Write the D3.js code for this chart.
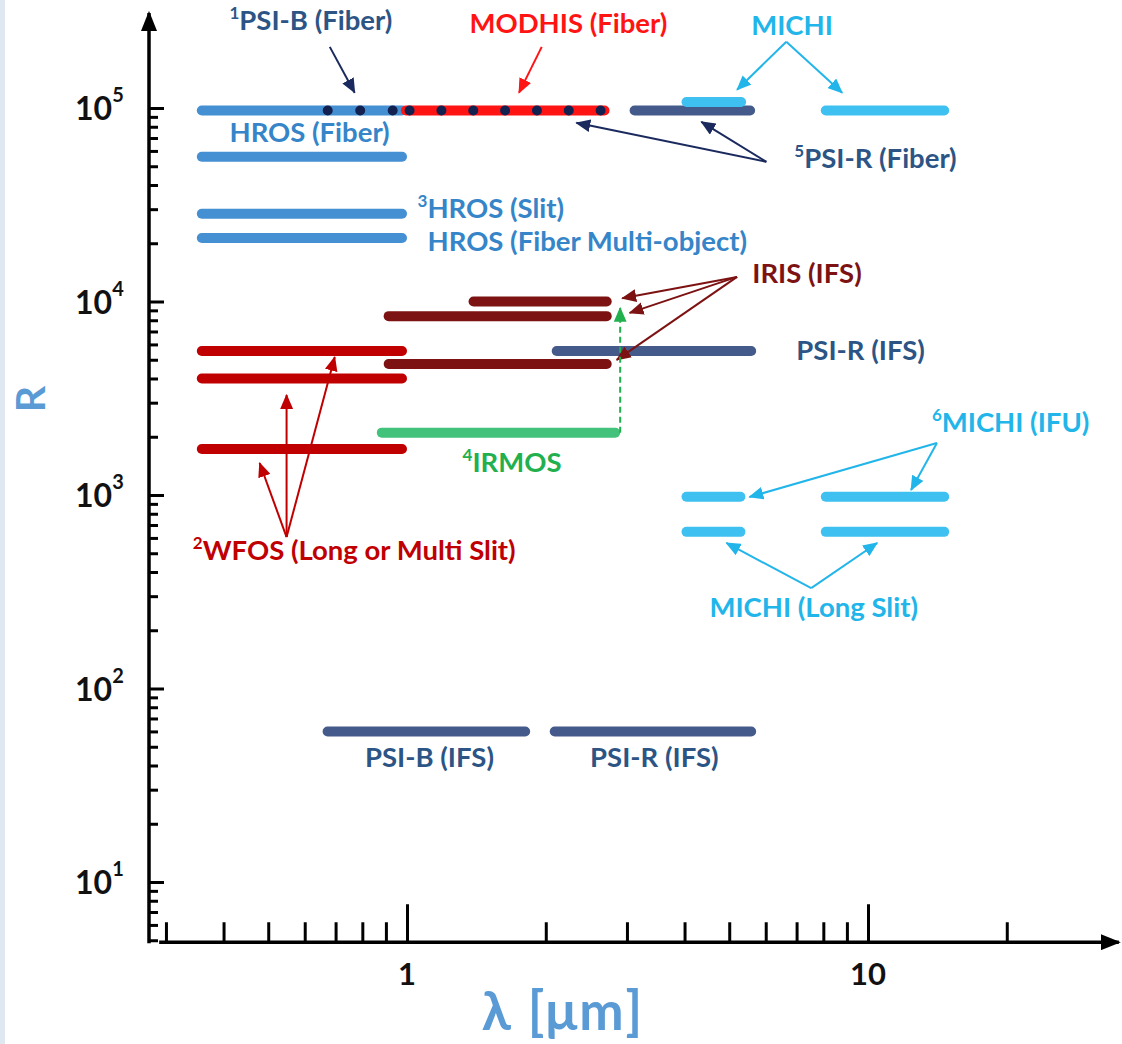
<!DOCTYPE html>
<html>
<head>
<meta charset="utf-8">
<script src="https://cdn.jsdelivr.net/npm/d3@7"></script>
<style>
  body { margin: 0; background: #fff; }
  svg { display: block; font-family: Lato, "Open Sans", sans-serif; font-weight: 700; }
</style>
</head>
<body>
<svg id="chart"></svg>
<script>
let width = 1122;
let height = 1044;

// wavelength range (µm) and resolving power R for each instrument mode
let hrosBars = [
  {from: 0.35, to: 1.0, r: 97000},
  {from: 0.35, to: 1.0, r: 56000},
  {from: 0.35, to: 1.0, r: 28400},
  {from: 0.35, to: 1.0, r: 21300}
];
let modhisBars = [{from: 0.97, to: 2.75, r: 97000}];
let psiBars = [
  {from: 3.04, to: 5.69, r: 97000},
  {from: 2.06, to: 5.72, r: 5550},
  {from: 0.656, to: 1.85, r: 60},
  {from: 2.04, to: 5.72, r: 60}
];
let michiBars = [
  {from: 3.94, to: 5.44, r: 107500},
  {from: 7.9, to: 15, r: 97000},
  {from: 3.94, to: 5.42, r: 980},
  {from: 7.9, to: 15, r: 980},
  {from: 3.94, to: 5.42, r: 645},
  {from: 7.9, to: 15, r: 645}
];
let irisBars = [
  {from: 1.36, to: 2.78, r: 10000},
  {from: 0.89, to: 2.78, r: 8400},
  {from: 0.89, to: 2.78, r: 4750}
];
let wfosBars = [
  {from: 0.35, to: 1.0, r: 5550},
  {from: 0.35, to: 1.0, r: 4000},
  {from: 0.35, to: 1.0, r: 1730}
];
let irmosBars = [{from: 0.86, to: 2.9, r: 2100}];
// fiber modes shown as dots on the R~1e5 row
let fiberDots = [
  {from: 0.673, to: 0.931, r: 97000, count: 3},
  {from: 1.013, to: 2.63, r: 97000, count: 7}
];

let xTickMajor = [1, 10];
let xTickMinor = [0.3, 0.4, 0.5, 0.6, 0.7, 0.8, 0.9, 2, 3, 4, 5, 6, 7, 8, 9, 20];
let yTickMajor = [10, 100, 1000, 10000, 100000];

let colors = {
  hros: '#4590d2', modhis: '#ff1414', psi: '#445a8a', michi: '#3ec1f0',
  iris: '#7d1212', wfos: '#c00000', irmos: '#42c27a', dots: '#12214f',
  psiText: '#2c5585', hrosText: '#3585c8', michiText: '#22b5ea',
  irmosText: '#22b04f', axisTitle: '#5b9bd5'
};

let labels = [
  {sup: '1', text: 'PSI-B (Fiber)', lam: 0.412, r: 2.54e5, color: colors.psiText},
  {text: 'MODHIS (Fiber)', lam: 1.366, r: 2.45e5, color: colors.modhis},
  {text: 'MICHI', lam: 5.58, r: 2.39e5, color: colors.michiText},
  {text: 'HROS (Fiber)', lam: 0.412, r: 6.69e4, color: colors.hrosText},
  {sup: '5', text: 'PSI-R (Fiber)', lam: 6.92, r: 4.91e4, color: colors.psiText},
  {sup: '3', text: 'HROS (Slit)', lam: 1.054, r: 2.71e4, color: colors.hrosText},
  {text: 'HROS (Fiber Multi-object)', lam: 1.108, r: 1.83e4, color: colors.hrosText},
  {text: 'IRIS (IFS)', lam: 5.61, r: 1.25e4, color: colors.iris},
  {text: 'PSI-R (IFS)', lam: 6.99, r: 4990, color: colors.psiText},
  {sup: '4', text: 'IRMOS', lam: 1.32, r: 1315, color: colors.irmosText},
  {sup: '6', text: 'MICHI (IFU)', lam: 13.76, r: 2117, color: colors.michiText},
  {sup: '2', text: 'WFOS (Long or Multi Slit)', lam: 0.343, r: 461, color: colors.wfos},
  {text: 'MICHI (Long Slit)', lam: 4.53, r: 234, color: colors.michiText},
  {text: 'PSI-B (IFS)', lam: 1.119, r: 39.2, color: colors.psiText, anchor: 'middle'},
  {text: 'PSI-R (IFS)', lam: 3.44, r: 39.2, color: colors.psiText, anchor: 'middle'}
];

// arrows: [lambda, R] start -> end
let arrows = [
  {from: [0.68, 2.07e5], to: [0.77, 1.2e5], color: '#1a2a5e'},
  {from: [1.96, 2.07e5], to: [1.75, 1.2e5], color: colors.modhis},
  {from: [6.65, 2.2e5], to: [5.2, 1.242e5], color: colors.michiText},
  {from: [6.65, 2.2e5], to: [8.79, 1.2e5], color: colors.michiText},
  {from: [6.02, 5.27e4], to: [2.33, 8.38e4], color: '#1a2a5e'},
  {from: [6.02, 5.27e4], to: [4.35, 8.48e4], color: '#1a2a5e'},
  {from: [5.2, 1.34e4], to: [2.93, 1.04e4], color: colors.iris},
  {from: [5.2, 1.34e4], to: [3.04, 8730], color: colors.iris},
  {from: [5.2, 1.34e4], to: [2.85, 4990], color: colors.iris},
  {from: [0.548, 606], to: [0.479, 1464], color: colors.wfos},
  {from: [0.548, 606], to: [0.548, 3289], color: colors.wfos},
  {from: [0.548, 606], to: [0.697, 5170], color: colors.wfos},
  {from: [14.11, 1857], to: [5.53, 976], color: colors.michiText},
  {from: [14.11, 1857], to: [12.4, 1061], color: colors.michiText},
  {from: [7.53, 330], to: [4.93, 565], color: colors.michiText},
  {from: [7.53, 330], to: [10.47, 565], color: colors.michiText},
  {from: [2.9, 2100], to: [2.9, 9265], color: colors.irmosText, dashed: true}
];

let x = d3.scaleLog().domain([1, 10]).range([407, 868]);
let y = d3.scaleLog().domain([10, 1e5]).range([882, 108]);

let svg = d3.select('#chart')
  .attr('width', width)
  .attr('height', height);

svg.append('rect').attr('width', width).attr('height', height).attr('fill', '#fff');
svg.append('rect').attr('width', 5).attr('height', height).attr('fill', '#dfe7f1');

// arrow head markers, one per colour
let defs = svg.append('defs');
let markerColors = Array.from(new Set(arrows.map(d => d.color)));
markerColors.forEach((c, i) => {
  defs.append('marker')
    .attr('id', 'head' + i)
    .attr('viewBox', '0 0 14 12')
    .attr('markerUnits', 'userSpaceOnUse')
    .attr('markerWidth', 15)
    .attr('markerHeight', 13)
    .attr('refX', 13)
    .attr('refY', 6)
    .attr('orient', 'auto')
    .append('path')
      .attr('d', 'M0,0 L14,6 L0,12 Z')
      .attr('fill', c);
});
defs.append('marker')
  .attr('id', 'axisHead')
  .attr('viewBox', '0 0 20 16')
  .attr('markerUnits', 'userSpaceOnUse')
  .attr('markerWidth', 20)
  .attr('markerHeight', 16)
  .attr('refX', 18)
  .attr('refY', 8)
  .attr('orient', 'auto')
  .append('path')
    .attr('d', 'M0,0 L20,8 L0,16 Z')
    .attr('fill', '#000');

// axes
let axisY0 = y(5) + 2;
let axisX0 = x(0.29);

let xAxisMinor = d3.axisTop(x).tickValues(xTickMinor).tickSize(20).tickFormat('');
let xAxisMajor = d3.axisTop(x).tickValues(xTickMajor).tickSize(38).tickFormat('');
[xAxisMinor, xAxisMajor].forEach(ax => {
  let g = svg.append('g').attr('transform', `translate(0, ${axisY0})`).call(ax);
  g.select('.domain').remove();
  g.selectAll('line').attr('stroke', '#000').attr('stroke-width', 3);
});

let yMinor = [];
[1, 10, 100, 1000, 10000].forEach(dec => {
  for (let k = 2; k <= 9; k++) yMinor.push(dec * k);
});
yMinor = yMinor.filter(v => v >= 5);
let yAxisMinor = d3.axisRight(y).tickValues(yMinor).tickSize(9).tickFormat('');
let yAxisMajor = d3.axisRight(y).tickValues(yTickMajor).tickSize(15).tickFormat('');
[yAxisMinor, yAxisMajor].forEach(ax => {
  let g = svg.append('g').attr('transform', `translate(${149}, 0)`).call(ax);
  g.select('.domain').remove();
  g.selectAll('line').attr('stroke', '#000').attr('stroke-width', 3);
});

svg.append('line')
  .attr('x1', 149).attr('x2', 149)
  .attr('y1', axisY0 + 1).attr('y2', y(3.1e5))
  .attr('stroke', '#000').attr('stroke-width', 3.5)
  .attr('marker-end', 'url(#axisHead)');
svg.append('line')
  .attr('x1', axisX0).attr('x2', x(35))
  .attr('y1', axisY0).attr('y2', axisY0)
  .attr('stroke', '#000').attr('stroke-width', 3.5)
  .attr('marker-end', 'url(#axisHead)');

// tick labels
svg.append('g').selectAll('text')
  .data(xTickMajor)
  .enter().append('text')
    .attr('x', d => x(d))
    .attr('y', axisY0 + 43)
    .attr('text-anchor', 'middle')
    .attr('font-size', 31)
    .attr('fill', '#111')
    .text(d => d);

let yLab = svg.append('g').selectAll('text')
  .data(yTickMajor)
  .enter().append('text')
    .attr('x', 75)
    .attr('y', d => y(d) + 12)
    .attr('font-size', 32)
    .attr('fill', '#111');
yLab.append('tspan').text('10');
yLab.append('tspan').attr('font-size', 20).attr('dy', -18).text(d => Math.round(Math.log10(d)));

// axis titles
svg.append('text')
  .attr('x', 563).attr('y', 1030)
  .attr('text-anchor', 'middle')
  .attr('font-size', 53)
  .attr('letter-spacing', 2)
  .attr('fill', colors.axisTitle)
  .text('λ [μm]');
svg.append('text')
  .attr('transform', 'translate(45, 399) rotate(-90)')
  .attr('text-anchor', 'middle')
  .attr('font-size', 41)
  .attr('fill', colors.axisTitle)
  .text('R');

// bars
let barH = 10;
let series = [
  {bars: hrosBars, color: colors.hros},
  {bars: modhisBars, color: colors.modhis},
  {bars: psiBars, color: colors.psi},
  {bars: michiBars, color: colors.michi},
  {bars: irisBars, color: colors.iris},
  {bars: wfosBars, color: colors.wfos},
  {bars: irmosBars, color: colors.irmos}
];
series.forEach(s => {
  svg.append('g').selectAll('rect')
    .data(s.bars)
    .enter().append('rect')
      .attr('x', d => x(d.from))
      .attr('y', d => y(d.r) - barH / 2)
      .attr('width', d => x(d.to) - x(d.from))
      .attr('height', barH)
      .attr('rx', barH / 2)
      .attr('fill', s.color);
});

svg.append('g').selectAll('line')
  .data(fiberDots)
  .enter().append('line')
    .attr('x1', d => x(d.from))
    .attr('x2', d => x(d.to) + 1)
    .attr('y1', d => y(d.r))
    .attr('y2', d => y(d.r))
    .attr('stroke', colors.dots)
    .attr('stroke-width', 10)
    .attr('stroke-linecap', 'round')
    .attr('stroke-dasharray', d => `0 ${(x(d.to) - x(d.from)) / (d.count - 1)}`);

// arrows
svg.append('g').selectAll('line')
  .data(arrows)
  .enter().append('line')
    .attr('x1', d => x(d.from[0]))
    .attr('y1', d => y(d.from[1]))
    .attr('x2', d => x(d.to[0]))
    .attr('y2', d => y(d.to[1]))
    .attr('stroke', d => d.color)
    .attr('stroke-width', 2)
    .attr('stroke-dasharray', d => d.dashed ? '6 4' : null)
    .attr('marker-end', d => `url(#head${markerColors.indexOf(d.color)})`);

// labels
let lab = svg.append('g').selectAll('text')
  .data(labels)
  .enter().append('text')
    .attr('x', d => x(d.lam))
    .attr('y', d => y(d.r))
    .attr('text-anchor', d => d.anchor || 'start')
    .attr('font-size', 27.5)
    .attr('fill', d => d.color);
lab.filter(d => d.sup).append('tspan')
  .attr('font-size', 17)
  .attr('dy', -11)
  .text(d => d.sup);
lab.append('tspan')
  .attr('dy', d => d.sup ? 11 : 0)
  .text(d => d.text);
</script>
</body>
</html>
